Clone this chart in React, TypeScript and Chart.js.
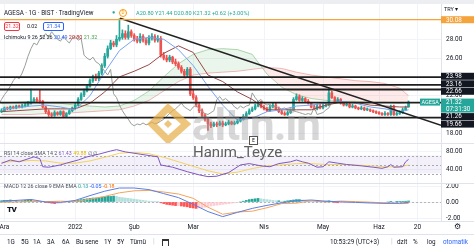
import React, { useEffect, useRef } from 'react';
import { Chart, registerables } from 'chart.js';

Chart.register(...registerables);

const FONT = "Roboto, 'Liberation Sans', Arial, sans-serif";
const UP = '#26a69a';
const DOWN = '#ef5350';

// ---- candles (one per trading day) ----
const opens = [
  20.3, 20.4, 20.7, 20.6, 20.8, 20.7, 20.9, 20.8, 20.9, 21.0,
  21.2, 21.4, 21.6, 21.5, 21.4, 20.8, 20.3, 20.0, 19.9, 20.2,
  20.0, 20.3, 19.8, 20.1, 20.4, 20.7, 21.0, 21.6, 22.1, 22.5,
  23.0, 23.6, 24.0, 23.8, 24.4, 25.2, 26.2, 27.0, 27.6, 27.4,
  28.0, 28.2, 28.6, 28.2, 28.8, 28.4, 28.0, 27.8, 28.3, 27.9,
  27.6, 28.1, 28.3, 27.9, 28.1, 26.3, 26.0, 25.8, 26.1, 25.6,
  25.4, 25.0, 24.6, 24.2, 24.8, 22.2, 21.8, 21.0, 20.4, 19.9,
  19.5, 19.0, 18.8, 19.0, 18.9, 19.1, 18.9, 19.0, 19.2, 19.0,
  19.1, 19.3, 19.5, 19.8, 20.1, 20.4, 20.6, 20.9, 21.2, 20.8,
  20.6, 20.4, 20.8, 21.0, 20.6, 20.3, 20.1, 20.0, 20.2, 20.5,
  21.6, 21.9, 21.5, 21.7, 21.4, 21.2, 20.8, 20.6, 20.9, 20.7,
  20.9, 21.0, 22.3, 21.8, 21.4, 21.6, 21.2, 21.0, 21.1, 20.8,
  20.9, 20.7, 20.6, 20.7, 20.5, 20.5, 20.4, 20.3, 20.2, 20.1,
  20.0, 20.1, 20.0, 20.9, 20.0, 20.1, 20.2, 20.5, 20.80,
];
const highs = [
  20.6, 20.8, 20.8, 20.9, 20.9, 21.0, 21.0, 21.1, 21.2, 21.4,
  22.7, 21.8, 21.8, 22.6, 21.5, 20.9, 20.5, 20.2, 20.4, 20.3,
  20.4, 20.4, 20.2, 20.5, 20.8, 21.2, 21.8, 22.3, 22.7, 23.2,
  23.8, 24.2, 24.3, 24.6, 25.4, 26.5, 27.3, 27.9, 27.8, 28.4,
  30.2, 29.0, 28.9, 29.5, 29.0, 28.6, 28.3, 28.6, 28.5, 28.1,
  28.4, 28.6, 28.5, 28.4, 28.3, 26.6, 26.3, 26.3, 26.2, 25.9,
  25.6, 25.2, 24.8, 25.0, 25.0, 22.6, 22.0, 21.3, 20.6, 20.1,
  19.7, 19.2, 19.2, 19.2, 19.3, 19.3, 19.2, 19.4, 19.3, 19.3,
  19.5, 19.7, 20.0, 20.3, 20.6, 20.8, 21.1, 21.4, 21.4, 21.0,
  20.8, 21.0, 21.2, 21.2, 20.8, 20.5, 20.3, 20.4, 20.6, 21.8,
  22.2, 22.1, 21.9, 21.8, 21.6, 21.3, 21.0, 21.1, 21.1, 21.1,
  21.2, 22.8, 22.5, 21.9, 21.8, 21.7, 21.3, 21.3, 21.2, 21.1,
  21.0, 20.8, 20.9, 20.8, 20.7, 20.6, 20.5, 20.4, 20.3, 20.2,
  20.3, 20.2, 21.0, 21.0, 20.3, 20.4, 20.7, 20.9, 21.44,
];
const lows = [
  20.2, 20.3, 20.5, 20.5, 20.6, 20.6, 20.7, 20.7, 20.8, 20.9,
  21.1, 21.3, 21.3, 21.2, 20.7, 20.1, 19.8, 19.7, 19.8, 19.9,
  19.9, 19.7, 19.7, 20.0, 20.3, 20.6, 20.9, 21.5, 21.9, 22.4,
  22.9, 23.4, 23.6, 23.6, 24.2, 25.0, 26.0, 26.9, 27.2, 27.2,
  27.8, 28.0, 28.0, 28.0, 28.2, 27.8, 27.6, 27.6, 27.7, 27.4,
  27.4, 27.9, 27.7, 27.7, 26.1, 25.8, 25.6, 25.6, 25.4, 25.2,
  24.8, 24.4, 24.0, 24.0, 22.0, 21.6, 20.8, 20.2, 19.7, 19.3,
  18.3, 18.6, 18.7, 18.7, 18.8, 18.7, 18.8, 18.9, 18.9, 18.9,
  19.0, 19.2, 19.4, 19.7, 20.0, 20.3, 20.5, 20.8, 20.7, 20.5,
  20.3, 20.3, 20.7, 20.5, 20.2, 20.0, 19.9, 19.9, 20.1, 20.4,
  21.5, 21.4, 21.4, 21.3, 21.1, 20.7, 20.5, 20.5, 20.6, 20.6,
  20.8, 20.9, 21.7, 21.3, 21.3, 21.1, 20.9, 20.9, 20.7, 20.7,
  20.6, 20.5, 20.5, 20.4, 20.4, 20.3, 20.2, 20.1, 20.0, 19.9,
  19.9, 19.9, 19.9, 19.9, 19.9, 20.0, 20.1, 20.4, 20.80,
];
const closes = [
  20.4, 20.7, 20.6, 20.8, 20.7, 20.9, 20.8, 20.9, 21.0, 21.2,
  21.4, 21.6, 21.5, 21.4, 20.8, 20.3, 20.0, 19.9, 20.2, 20.0,
  20.3, 19.8, 20.1, 20.4, 20.7, 21.0, 21.6, 22.1, 22.5, 23.0,
  23.6, 24.0, 23.8, 24.4, 25.2, 26.2, 27.0, 27.6, 27.4, 28.0,
  28.2, 28.6, 28.2, 28.8, 28.4, 28.0, 27.8, 28.3, 27.9, 27.6,
  28.1, 28.3, 27.9, 28.1, 26.3, 26.0, 25.8, 26.1, 25.6, 25.4,
  25.0, 24.6, 24.2, 24.8, 22.2, 21.8, 21.0, 20.4, 19.9, 19.5,
  19.0, 18.8, 19.0, 18.9, 19.1, 18.9, 19.0, 19.2, 19.0, 19.1,
  19.3, 19.5, 19.8, 20.1, 20.4, 20.6, 20.9, 21.2, 20.8, 20.6,
  20.4, 20.8, 21.0, 20.6, 20.3, 20.1, 20.0, 20.2, 20.4, 21.6,
  21.9, 21.5, 21.7, 21.4, 21.2, 20.8, 20.6, 20.9, 20.7, 20.9,
  21.0, 22.3, 21.8, 21.4, 21.6, 21.2, 21.0, 21.1, 20.8, 20.9,
  20.7, 20.6, 20.7, 20.5, 20.5, 20.4, 20.3, 20.2, 20.1, 20.0,
  20.1, 20.0, 20.8, 20.0, 20.1, 20.2, 20.5, 20.7, 21.32,
];

// ---- x axis ticks (bar index -> label) ----
const monthTickIdx = [1, 25, 45, 65, 89, 109, 128, 141];
const monthTickLabels = ['Ara', '2022', 'Şub', 'Mar', 'Nis', 'May', 'Haz', '20'];
const priceTicks = [18, 22, 26, 28];

// ---- Ichimoku (read every 5 bars) ----
const sampleIdx = [0, 5, 10, 15, 20, 25, 30, 35, 40, 45, 50, 55, 60, 65, 70, 75, 80, 85, 90, 95, 100, 105, 110, 115, 120, 125, 130, 135, 138];
const tenkan = [20.6, 20.7, 20.9, 21.0, 20.8, 20.5, 22.0, 24.5, 26.8, 28.0, 28.2, 28.0, 26.9, 25.2, 23.0, 21.0, 19.4, 19.6, 20.3, 20.5, 20.9, 21.0, 21.2, 21.4, 21.2, 20.8, 20.6, 20.3, 20.49];
const kijun = [20.3, 20.4, 20.5, 20.6, 20.6, 20.6, 21.2, 22.4, 24.0, 24.6, 25.3, 26.5, 27.3, 26.6, 24.2, 23.5, 22.4, 21.6, 20.5, 20.5, 20.5, 20.5, 21.0, 21.3, 21.3, 21.0, 20.9, 20.8, 20.8];
const spanA = [21.2, 21.3, 21.4, 21.3, 21.2, 21.0, 20.9, 20.8, 20.9, 21.5, 22.5, 24.0, 25.4, 26.4, 26.9, 27.0, 26.9, 26.4, 24.3, 22.9, 22.1, 21.7, 21.5, 21.4, 21.4, 21.3, 21.3, 21.2, 21.3];
const spanB = [20.0, 20.0, 20.0, 20.1, 20.1, 20.2, 20.3, 20.4, 20.5, 20.9, 21.5, 22.5, 23.5, 24.2, 24.4, 24.5, 24.6, 24.8, 25.0, 24.9, 24.5, 24.2, 24.0, 23.8, 23.6, 23.5, 23.3, 22.8, 22.0];
const laggingShift = 26;

// ---- drawings ----
const levelLines = [23.98, 23.16, 22.66, 21.26, 19.66];
const highLine = 30.08;
const trendIdx = [40.2, 149];
const trendPrice = [30.23, 18.85];
const lastPrice = 21.32;
const countdown = '07:31:30';

// ---- RSI ----
const rsiIdx = [0, 3, 6, 11, 13, 14, 16, 20, 22, 26, 29, 33, 37, 39, 42, 47, 51, 53, 54, 58, 63, 67, 70, 73, 77, 81, 84, 88, 91, 94, 98, 100, 102, 104, 107, 109, 111, 114, 117, 122, 126, 129, 131, 132, 133, 136, 137, 138];
const rsiVal = [52.6, 60, 56, 67, 63, 45, 44, 49, 53, 60, 67, 73, 80, 83, 78, 73, 69, 67, 49, 44, 34, 27, 23, 24, 32, 49, 52, 47, 45, 52, 56, 60, 56, 53, 44, 45, 56, 53, 50, 47, 44, 41.5, 45, 50, 44, 45, 56, 61.43];
const rsiSma = [55, 57, 59, 58, 53, 53, 58, 66, 75, 77, 74, 66, 56, 46, 36, 29, 33, 41, 47, 49, 52, 52, 50, 50, 49, 47, 45, 45, 48.8];
const rsiTicks = [40, 80];
const rsiBands = [70, 50, 30];

// ---- MACD ----
const macdHist = [
  0.15, 0.2, 0.2, 0.25, 0.2, 0.2, 0.15, 0.15, 0.2, 0.25, 0.25, 0.2, 0.15, 0.1, 0.05,
  -0.05, -0.1, -0.15, -0.2, -0.2, -0.15, -0.1, -0.05, 0.0,
  0.1, 0.15, 0.2, 0.3, 0.35, 0.4, 0.45, 0.5, 0.5, 0.55,
  0.6, 0.65, 0.7, 0.7, 0.75, 0.7,
  0.6, 0.55, 0.5, 0.45, 0.4, 0.35, 0.3, 0.25, 0.2, 0.15, 0.1, 0.08, 0.05, 0.02,
  -0.1, -0.2, -0.3, -0.35, -0.4, -0.45, -0.45, -0.5, -0.55, -0.6,
  -0.7, -0.75, -0.8, -0.75, -0.7, -0.65,
  -0.55, -0.5, -0.45, -0.4, -0.35, -0.3, -0.25, -0.2, -0.15, -0.1, -0.05, 0.0,
  0.1, 0.2, 0.3, 0.35, 0.4, 0.45, 0.4, 0.35,
  0.3, 0.25, 0.2, 0.15, 0.15, 0.1, 0.1, 0.15,
  0.2, 0.25, 0.3, 0.3, 0.25, 0.2, 0.15, 0.1,
  0.05, 0.05, 0.0, 0.05, 0.1, 0.15, 0.1,
  -0.05, -0.1, -0.1, -0.1, -0.1, -0.1, -0.1, -0.1, -0.1, -0.1, -0.1, -0.1, -0.1, -0.05, -0.05, -0.05, -0.05, -0.05, 0.0,
  0.02, 0.0, 0.02, 0.05, 0.08, 0.1, 0.13,
];
const macdLine = [0.12, 0.2, 0.32, 0.0, -0.05, 0.2, 0.8, 1.35, 1.75, 1.75, 1.55, 1.05, 0.55, -0.29, -1.2, -1.83, -1.3, -0.8, -0.42, -0.1, 0.15, 0.25, 0.1, 0.02, -0.05, -0.12, -0.17, -0.15, -0.05];
const macdSignal = [-0.03, 0.0, 0.07, 0.05, 0.1, 0.05, 0.35, 0.7, 1.15, 1.4, 1.45, 1.25, 1.0, 0.46, -0.65, -1.53, -1.25, -1.15, -0.72, -0.2, -0.15, 0.15, 0.0, 0.12, 0.05, -0.02, -0.12, -0.2, -0.18];
const macdTicks = [-2, 0, 2];

// ---- layout constants ----
const W = 474;
const X_MIN = -0.5;
const X_MAX = 149;
const AXIS_W = 33;
const GRID = '#f0f3fa';
const TXT = '#131722';

function xScale(showLabels: boolean): any {
  return {
    type: 'linear',
    min: X_MIN,
    max: X_MAX,
    offset: false,
    afterBuildTicks: (s: any) => {
      s.ticks = monthTickIdx.map((v) => ({ value: v }));
    },
    afterFit: (s: any) => {
      s.height = showLabels ? 12 : 0;
      s.paddingLeft = 0;
      s.paddingRight = 0;
    },
    ticks: {
      display: showLabels,
      autoSkip: false,
      maxRotation: 0,
      padding: 2,
      color: TXT,
      font: { size: 6.5, family: FONT },
      callback: (_v: any, i: number) => monthTickLabels[i] ?? '',
    },
    grid: { color: GRID, drawTicks: false, offset: false },
    border: { display: false },
  };
}

function yScale(min: number, max: number, ticks: number[]): any {
  return {
    type: 'linear',
    position: 'right',
    min,
    max,
    afterBuildTicks: (s: any) => {
      s.ticks = ticks.map((v) => ({ value: v }));
    },
    afterFit: (s: any) => {
      s.width = AXIS_W;
      s.paddingTop = 0;
      s.paddingBottom = 0;
    },
    ticks: {
      color: TXT,
      padding: 5,
      font: { size: 6.5, family: FONT },
      callback: (v: any) => Number(v).toFixed(2),
    },
    grid: { color: GRID, drawTicks: false },
    border: { color: '#e0e3eb' },
  };
}

function lineDs(xs: number[], ys: number[], color: string, width: number, order: number, extra: any = {}): any {
  return {
    type: 'line',
    data: xs.map((x, i) => ({ x, y: ys[i] })),
    borderColor: color,
    borderWidth: width,
    pointRadius: 0,
    tension: 0,
    fill: false,
    order,
    ...extra,
  };
}

function baseOptions(yCfg: any, showX: boolean): any {
  return {
    animation: false,
    responsive: false,
    devicePixelRatio: 1,
    events: [],
    layout: { padding: 0 },
    plugins: { legend: { display: false }, tooltip: { enabled: false } },
    scales: { x: xScale(showX), y: yCfg },
  };
}

function drawAxisBox(ctx: CanvasRenderingContext2D, x: number, w: number, cy: number, h: number, bg: string, lines: string[]) {
  ctx.fillStyle = bg;
  ctx.fillRect(x, cy - h / 2, w, h);
  ctx.fillStyle = '#ffffff';
  ctx.font = `6.3px ${FONT}`;
  ctx.textBaseline = 'middle';
  ctx.textAlign = 'left';
  const lh = h / lines.length;
  lines.forEach((t, k) => ctx.fillText(t, x + 5, cy - h / 2 + lh * (k + 0.5) + 0.3));
}

const pricePlugin: any = {
  id: 'priceDecor',
  afterDatasetsDraw(chart: any) {
    const { ctx, chartArea: a } = chart;
    const y = chart.scales.y;
    ctx.save();
    const oy = y.getPixelForValue(highLine);
    ctx.strokeStyle = '#f5a33c';
    ctx.lineWidth = 1.3;
    ctx.beginPath();
    ctx.moveTo(a.left, oy);
    ctx.lineTo(a.right, oy);
    ctx.stroke();
    ctx.strokeStyle = '#1e1e1e';
    ctx.lineWidth = 1.8;
    levelLines.forEach((v) => {
      const py = y.getPixelForValue(v);
      ctx.beginPath();
      ctx.moveTo(a.left, py);
      ctx.lineTo(a.right, py);
      ctx.stroke();
    });
    ctx.restore();
  },
  afterDraw(chart: any) {
    const { ctx, chartArea: a } = chart;
    const y = chart.scales.y;
    const x0 = a.right;
    const w = chart.width - a.right;
    ctx.save();
    drawAxisBox(ctx, x0, w, y.getPixelForValue(highLine), 7, '#f5a33c', [highLine.toFixed(2)]);
    const labs: any[] = [
      ...levelLines.map((v) => ({ raw: y.getPixelForValue(v), h: 7, fixed: false, bg: TXT, lines: [v.toFixed(2)] })),
      { raw: y.getPixelForValue(lastPrice), h: 14, fixed: true, bg: UP, lines: [lastPrice.toFixed(2), countdown] },
    ].sort((p, q) => p.raw - q.raw);
    labs.forEach((l) => (l.c = l.fixed ? l.raw + 3.5 : l.raw));
    for (let it = 0; it < 80; it++) {
      for (let i = 1; i < labs.length; i++) {
        const p = labs[i - 1];
        const q = labs[i];
        const need = (p.h + q.h) / 2 + 0.5;
        const d = q.c - p.c;
        if (d < need) {
          const push = need - d;
          if (p.fixed) q.c += push;
          else if (q.fixed) p.c -= push;
          else {
            p.c -= push / 2;
            q.c += push / 2;
          }
        }
      }
    }
    labs.forEach((l) => drawAxisBox(ctx, x0, w, l.c, l.h, l.bg, l.lines));
    const py = y.getPixelForValue(lastPrice);
    ctx.fillStyle = UP;
    ctx.fillRect(a.right - 21, py - 3.5, 20, 7);
    ctx.fillStyle = '#ffffff';
    ctx.font = `5.5px ${FONT}`;
    ctx.textBaseline = 'middle';
    ctx.fillText('AGESA', a.right - 19.5, py + 0.3);
    ctx.restore();
  },
};

const rsiPlugin: any = {
  id: 'rsiDecor',
  beforeDatasetsDraw(chart: any) {
    const { ctx, chartArea: a } = chart;
    const y = chart.scales.y;
    const top = y.getPixelForValue(rsiBands[0]);
    const bot = y.getPixelForValue(rsiBands[rsiBands.length - 1]);
    ctx.save();
    ctx.fillStyle = 'rgba(126,87,194,0.09)';
    ctx.fillRect(a.left, top, a.right - a.left, bot - top);
    ctx.setLineDash([2, 2]);
    ctx.strokeStyle = '#a7a9b3';
    ctx.lineWidth = 1;
    rsiBands.forEach((v) => {
      const py = Math.round(y.getPixelForValue(v)) + 0.5;
      ctx.beginPath();
      ctx.moveTo(a.left, py);
      ctx.lineTo(a.right, py);
      ctx.stroke();
    });
    ctx.restore();
  },
};

const macdPlugin: any = {
  id: 'macdDecor',
  beforeDatasetsDraw(chart: any) {
    const { ctx, chartArea: a } = chart;
    const y = chart.scales.y;
    const py = Math.round(y.getPixelForValue(0)) + 0.5;
    ctx.save();
    ctx.setLineDash([2, 2]);
    ctx.strokeStyle = '#b2b5be';
    ctx.lineWidth = 1;
    ctx.beginPath();
    ctx.moveTo(a.left, py);
    ctx.lineTo(a.right, py);
    ctx.stroke();
    ctx.restore();
  },
};

function makePrice(canvas: HTMLCanvasElement) {
  const idx = closes.map((_, i) => i);
  const colors = closes.map((c, i) => (c >= opens[i] ? UP : DOWN));
  const datasets: any[] = [
    lineDs(trendIdx, trendPrice, '#222222', 1.5, 0),
    lineDs(sampleIdx, tenkan, '#7aa2ee', 1, 4),
    lineDs(sampleIdx, kijun, '#9a4848', 1, 4),
    lineDs(idx.map((i) => i - laggingShift), closes, '#979e97', 1, 4),
    {
      type: 'bar',
      data: idx.map((i) => ({ x: i, y: [lows[i], highs[i]] })),
      backgroundColor: colors,
      barThickness: 1,
      grouped: false,
      order: 6,
    },
    {
      type: 'bar',
      data: idx.map((i) => ({ x: i, y: [opens[i], closes[i]] })),
      backgroundColor: colors,
      barThickness: 2,
      minBarLength: 1,
      grouped: false,
      order: 5,
    },
    lineDs(sampleIdx, spanA, 'rgba(120,190,120,0.6)', 1, 8, {
      fill: { target: '+1', above: 'rgba(67,160,71,0.11)', below: 'rgba(244,67,54,0.11)' },
    }),
    lineDs(sampleIdx, spanB, 'rgba(235,140,140,0.6)', 1, 8),
  ];
  return new Chart(canvas, {
    type: 'bar',
    data: { datasets },
    options: baseOptions(yScale(16.97, 31.75, priceTicks), false),
    plugins: [pricePlugin],
  } as any);
}

function makeRsi(canvas: HTMLCanvasElement) {
  const datasets: any[] = [
    lineDs(rsiIdx, rsiVal, '#7e57c2', 1, 1),
    lineDs(sampleIdx, rsiSma, '#f4d35e', 1, 2),
  ];
  return new Chart(canvas, {
    type: 'bar',
    data: { datasets },
    options: baseOptions(yScale(8.9, 97.8, rsiTicks), false),
    plugins: [rsiPlugin],
  } as any);
}

function makeMacd(canvas: HTMLCanvasElement) {
  const idx = macdHist.map((_, i) => i);
  const colors = macdHist.map((h, i) => {
    const prev = i > 0 ? macdHist[i - 1] : h;
    if (h >= 0) return h >= prev ? '#26a69a' : '#b2dfdb';
    return h < prev ? '#ff5252' : '#ffcdd2';
  });
  const datasets: any[] = [
    lineDs(sampleIdx, macdLine, '#5d7ee0', 1, 1),
    lineDs(sampleIdx, macdSignal, '#f5a35b', 1, 2),
    {
      type: 'bar',
      data: idx.map((i) => ({ x: i, y: macdHist[i] })),
      backgroundColor: colors,
      barThickness: 2,
      grouped: false,
      order: 3,
    },
  ];
  return new Chart(canvas, {
    type: 'bar',
    data: { datasets },
    options: baseOptions(yScale(-2.375, 2.375, macdTicks), true),
    plugins: [macdPlugin],
  } as any);
}

const abs = (left: number, top: number, extra: any = {}): any => ({
  position: 'absolute',
  left,
  top,
  whiteSpace: 'nowrap',
  lineHeight: 1,
  ...extra,
});

const toolbarLeft: [string, number][] = [
  ['1G', 7], ['5G', 21], ['1A', 33], ['3A', 47], ['6A', 62], ['Bu sene', 76], ['1Y', 104], ['5Y', 117], ['Tümü', 130],
];

export default function App() {
  const priceRef = useRef<HTMLCanvasElement>(null);
  const rsiRef = useRef<HTMLCanvasElement>(null);
  const macdRef = useRef<HTMLCanvasElement>(null);

  useEffect(() => {
    const charts = [makePrice(priceRef.current!), makeRsi(rsiRef.current!), makeMacd(macdRef.current!)];
    return () => charts.forEach((c) => c.destroy());
  }, []);

  const sep = (top: number) => (
    <div style={{ position: 'absolute', left: 0, top, width: W, height: 1, background: '#e0e3eb' }} />
  );

  return (
    <div style={{ position: 'absolute', left: 0, top: 0, width: W, height: 246, background: '#ffffff', overflow: 'hidden', fontFamily: FONT, color: TXT }}>
      <div style={{ position: 'absolute', left: 0, top: 0, width: W, height: 4, background: '#eceef1' }} />
      <canvas ref={priceRef} width={W} height={139} style={{ position: 'absolute', left: 0, top: 4, width: W, height: 139 }} />
      <canvas ref={rsiRef} width={W} height={40} style={{ position: 'absolute', left: 0, top: 143, width: W, height: 40 }} />
      <canvas ref={macdRef} width={W} height={50} style={{ position: 'absolute', left: 0, top: 183, width: W, height: 50 }} />
      {sep(143)}
      {sep(183)}
      {sep(221)}
      {sep(234)}

      {/* watermark */}
      <svg width={44} height={40} style={{ position: 'absolute', left: 147, top: 103, opacity: 0.7 }}>
        <polygon points="5,21 21,5 39,21 21,37" fill="none" stroke="#e6ad45" strokeWidth={7} />
        <polygon points="17,21 21,17 25,21 21,25" fill="#e6ad45" />
      </svg>
      <div style={abs(192, 103, { fontSize: 44, fontWeight: 700, color: 'rgba(150,150,150,0.38)', letterSpacing: -1 })}>altın.in</div>
      <div style={abs(193, 145, { fontSize: 15, color: '#606060' })}>Hanım_Teyze</div>

      {/* header */}
      <div style={abs(4, 10, { fontSize: 6.3 })}>AGESA · 1G · BIST · TradingView</div>
      <div style={abs(112, 10, { fontSize: 5.5, color: UP })}>●</div>
      <div style={abs(119, 9, { width: 6, height: 6, border: '1px solid #ff9800', borderRadius: '50%', fontSize: 4.5, color: '#ff9800', textAlign: 'center', lineHeight: '6px' })}>D</div>
      <div style={abs(136, 10.5, { fontSize: 5.6, color: UP })}>A20.80 Y21.44 D20.80 K21.32 +0.62 (+3.00%)</div>
      <div style={abs(4, 22, { width: 14, height: 7, border: '1px solid #f23645', borderRadius: 2, fontSize: 5.3, color: '#f23645', textAlign: 'center', lineHeight: '7px', background: '#fff' })}>21.32</div>
      <div style={abs(27, 24, { fontSize: 5.3 })}>0.02</div>
      <div style={abs(43, 22, { width: 19, height: 7, border: '1px solid #2962ff', borderRadius: 2, fontSize: 5.3, color: '#2962ff', textAlign: 'center', lineHeight: '7px', background: '#fff' })}>21.34</div>
      <div style={abs(4, 35, { fontSize: 5.4 })}>
        Ichimoku 9 26 52 26 <span style={{ color: '#2962ff' }}>20.49</span> <span style={{ color: '#b71c1c' }}>20.80</span>{' '}
        <span style={{ color: '#43a047' }}>21.32</span>
      </div>
      <div style={abs(444, 7, { fontSize: 5.5 })}>TRY ▾</div>

      {/* earnings marker */}
      <div style={abs(249, 136, { width: 7, height: 7, border: '1px solid #555', fontSize: 5, textAlign: 'center', lineHeight: '7px', background: '#fff' })}>E</div>

      {/* pane legends */}
      <div style={abs(4, 150.5, { fontSize: 5.3, color: '#4a4e59' })}>
        RSI 14 close SMA 14 2 <span style={{ color: '#7e57c2' }}>61.43</span> <span style={{ color: '#e0b400' }}>49.88</span> ∅ ∅
      </div>
      <div style={abs(4, 183.5, { fontSize: 5.3, color: '#4a4e59' })}>
        MACD 12 26 close 9 EMA EMA <span style={{ color: '#26a69a' }}>0.13</span> <span style={{ color: '#2962ff' }}>-0.05</span>{' '}
        <span style={{ color: '#ff6d00' }}>-0.18</span>
      </div>
      <div style={abs(7, 206, { fontSize: 8, fontWeight: 900, letterSpacing: -0.5 })}>TV</div>
      <div style={abs(454, 223, { fontSize: 8 })}>⚙</div>

      {/* bottom toolbar */}
      {toolbarLeft.map(([t, x]) => (
        <div key={t} style={abs(x, 238.5, { fontSize: 6.3 })}>{t}</div>
      ))}
      <div style={abs(153, 238, { fontSize: 7, color: '#c8cad0' })}>|</div>
      <div style={abs(162, 238.5, { width: 5, height: 5, border: '1px solid #333', borderTopWidth: 2 })} />
      <div style={abs(330, 238.5, { fontSize: 6.3 })}>10:53:29 (UTC+3)</div>
      <div style={abs(391, 238, { fontSize: 7, color: '#c8cad0' })}>|</div>
      <div style={abs(397, 238.5, { fontSize: 6.3 })}>dzlt</div>
      <div style={abs(413, 238.5, { fontSize: 6.3 })}>%</div>
      <div style={abs(427, 238.5, { fontSize: 6.3 })}>log</div>
      <div style={abs(443, 238.5, { fontSize: 6.3, color: '#2962ff' })}>otomatik</div>
    </div>
  );
}
